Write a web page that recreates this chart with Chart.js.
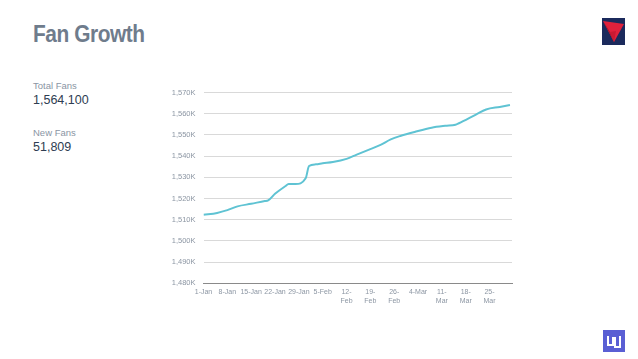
<!DOCTYPE html>
<html>
<head>
<meta charset="utf-8">
<script src="https://cdn.jsdelivr.net/npm/chart.js@4/dist/chart.umd.min.js"></script>
<style>
  body { margin: 0; width: 638px; height: 359px; background: #fff; position: relative; overflow: hidden; font-family: "Liberation Sans", Arial, sans-serif; }
  .title { position: absolute; left: 33px; top: 20px; font-weight: bold; font-size: 24px; color: #6f7c8c; letter-spacing: -0.5px; transform: scaleX(0.87); transform-origin: left top; }
  .label { position: absolute; left: 33px; font-size: 9.5px; color: #8a95a4; }
  .value { position: absolute; left: 33px; font-size: 12.5px; color: #2e3d52; }
  #wrap { position: absolute; left: 150px; top: 80px; width: 365px; height: 234px; }
  .logo { position: absolute; }
</style>
</head>
<body>
<div class="title">Fan Growth</div>
<div class="label" style="top:80px">Total Fans</div>
<div class="value" style="top:93px">1,564,100</div>
<div class="label" style="top:127px">New Fans</div>
<div class="value" style="top:140px">51,809</div>

<svg class="logo" style="left:602px;top:18px" width="23" height="27" viewBox="0 0 23 27">
  <rect width="23" height="27" fill="#1b2a5c"/>
  <polygon points="1,3 22,6 12,24" fill="#e0213c"/>
  <polygon points="1,3 12,24 8,14" fill="#a8142b"/>
  <polygon points="8,14 12,24 14,13" fill="#c81a33"/>
</svg>

<svg class="logo" style="left:603px;top:330px" width="22" height="22" viewBox="0 0 22 22">
  <rect width="22" height="22" fill="#5a5fd4"/>
  <path d="M5 6 V15 H10 V8 H12 V17 H17 V6" fill="none" stroke="#fff" stroke-width="2"/>
</svg>

<div id="wrap"><canvas id="fanChart"></canvas></div>

<script>
// days since 1 Jan and fans (thousands)
const days = [0, 4, 7, 10, 14, 18, 19, 21, 24, 25, 27, 30, 31, 33, 35, 38, 42, 45, 49, 52, 55, 58, 62, 67, 71, 74, 75, 78, 80, 83, 87, 90];
const fans = [1512.3, 1513.2, 1514.5, 1516.3, 1517.5, 1518.8, 1519.1, 1522.2, 1525.8, 1526.8, 1526.8, 1529.5, 1535.3, 1536.1, 1536.6, 1537.2, 1538.7, 1540.7, 1543.3, 1545.3, 1547.9, 1549.6, 1551.4, 1553.4, 1554.3, 1554.8, 1555.5, 1557.9, 1559.6, 1562.0, 1563.2, 1564.1];

const tickLabels = ['1-Jan', '8-Jan', '15-Jan', '22-Jan', '29-Jan', '5-Feb', '12-\nFeb', '19-\nFeb', '26-\nFeb', '4-Mar', '11-\nMar', '18-\nMar', '25-\nMar'];

new Chart(document.getElementById('fanChart'), {
  type: 'line',
  data: {
    datasets: [{
      data: days.map((d, i) => ({ x: d, y: fans[i] })),
      borderColor: '#5fc3d3',
      borderWidth: 2,
      pointRadius: 0,
      cubicInterpolationMode: 'monotone',
      fill: false
    }]
  },
  options: {
    responsive: true,
    maintainAspectRatio: false,
    animation: false,
    layout: { padding: { top: 8.3, right: 3 } },
    plugins: { legend: { display: false }, tooltip: { enabled: false } },
    scales: {
      x: {
        type: 'linear',
        min: 0,
        max: 90.6,
        afterFit: s => { s.height = 30.7; },
        afterBuildTicks: s => { s.ticks = tickLabels.map((_, i) => ({ value: i * 7 })); },
        grid: { display: false, drawTicks: false },
        border: { color: '#8a8a8a', width: 1 },
        ticks: {
          autoSkip: false,
          maxRotation: 0,
          padding: 5,
          color: '#8c96a3',
          font: { family: 'Liberation Sans, sans-serif', size: 7 },
          callback: (v, i) => tickLabels[i].split('\n')
        }
      },
      y: {
        min: 1480,
        max: 1570,
        afterFit: s => { s.width = 53.5; },
        grid: { color: '#d9d9d9', drawTicks: false },
        border: { display: false },
        ticks: {
          stepSize: 10,
          padding: 8,
          color: '#8c96a3',
          font: { family: 'Liberation Sans, sans-serif', size: 7.5 },
          callback: v => v.toLocaleString('en-US') + 'K'
        }
      }
    }
  }
});
</script>
</body>
</html>
